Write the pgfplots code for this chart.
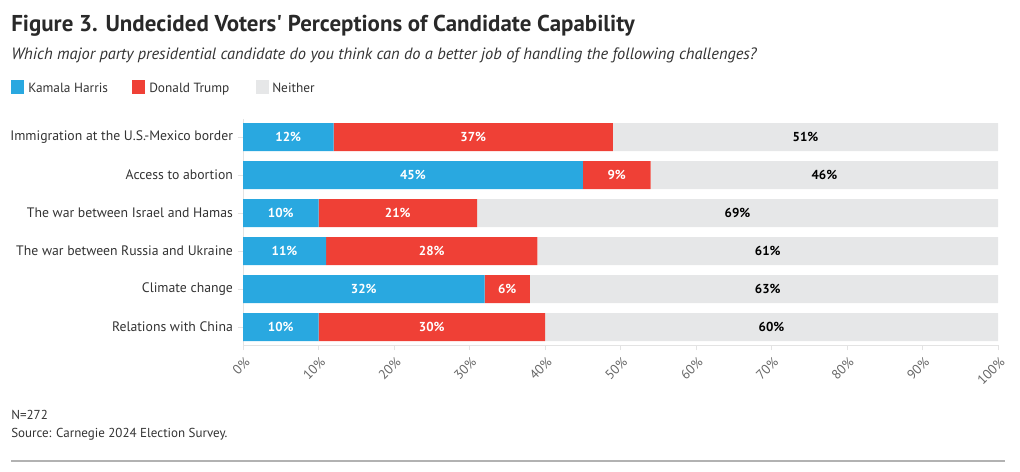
\documentclass[border=0pt]{standalone}
\usepackage{pgfplots}
\pgfplotsset{compat=1.18}
\usepackage{fontspec}
\setmainfont{PT Sans}
\definecolor{harris}{HTML}{29A8E0}
\definecolor{trump}{HTML}{EF4036}
\definecolor{neither}{HTML}{E6E7E8}
\definecolor{txt}{HTML}{333333}
\definecolor{axisgray}{HTML}{E3E3E3}
\definecolor{ticktxt}{HTML}{666666}
\begin{document}
\begin{tikzpicture}
\path[use as bounding box] (0,0) rectangle (765pt,-353.25pt);
\node[anchor=base west, font=\bfseries\fontsize{17.2}{19}\selectfont, text=txt!80!black, inner sep=0] at (8.25pt,-23.5pt) {Figure 3. Undecided Voters\textquotesingle{} Perceptions of Candidate Capability};
\node[anchor=base west, font=\itshape\fontsize{12.3}{14}\selectfont, text=txt, inner sep=0] at (8.25pt,-44.5pt) {Which major party presidential candidate do you think can do a better job of handling the following challenges?};
% legend
\fill[harris] (8.25pt,-60pt) rectangle (18pt,-70.5pt);
\node[anchor=base west, font=\fontsize{10}{12}\selectfont, text=txt, inner sep=0] at (21pt,-69pt) {Kamala Harris};
\fill[trump] (99pt,-60pt) rectangle (108.75pt,-70.5pt);
\node[anchor=base west, font=\fontsize{10}{12}\selectfont, text=txt, inner sep=0] at (111.75pt,-69pt) {Donald Trump};
\fill[neither] (192pt,-60pt) rectangle (201.75pt,-70.5pt);
\node[anchor=base west, font=\fontsize{10}{12}\selectfont, text=txt, inner sep=0] at (204pt,-69pt) {Neither};
% footer
\node[anchor=base west, font=\fontsize{9.75}{12}\selectfont, text=txt, inner sep=0] at (8.25pt,-314.25pt) {N=272};
\node[anchor=base west, font=\fontsize{9.75}{12}\selectfont, text=txt, inner sep=0] at (8.25pt,-328pt) {Source: Carnegie 2024 Election Survey.};
\draw[draw=black!30, line width=1pt] (8.25pt,-345.75pt) -- (753.75pt,-345.75pt);

\begin{axis}[
  at={(182.25pt,-258.75pt)}, anchor=south west,
  scale only axis, width=566.25pt, height=169.3pt,
  xmin=0, xmax=100, ymin=-0.47, ymax=5.47, y dir=reverse,
  /pgf/number format/assume math mode=true,
  xbar stacked, bar width=21pt,
  axis x line*=bottom, axis y line*=left,
  axis line style={draw=axisgray, line width=0.75pt},
  tick align=outside, major tick length=4pt,
  tick style={draw=axisgray, line width=0.75pt},
  xtick={0,10,...,100},
  xticklabel={\pgfmathprintnumber{\tick}\%},
  x tick label style={rotate=45, anchor=east, font=\fontsize{10}{10}\selectfont, text=ticktxt, xshift=0.8pt, yshift=-7.3pt},
  ytick={0,1,2,3,4,5},
  yticklabels={Immigration at the U.S.-Mexico border, Access to abortion, The war between Israel and Hamas, The war between Russia and Ukraine, Climate change, Relations with China},
  y tick label style={font=\fontsize{10.3}{12}\selectfont, text=txt},
]
\addplot[fill=harris, draw=none] coordinates {(12,0) (45,1) (10,2) (11,3) (32,4) (10,5)};
\addplot[fill=trump, draw=none] coordinates {(37,0) (9,1) (21,2) (28,3) (6,4) (30,5)};
\addplot[fill=neither, draw=none] coordinates {(51,0) (46,1) (69,2) (61,3) (63,4) (60,5)};
\end{axis}

\begin{axis}[
  at={(182.25pt,-258.75pt)}, anchor=south west,
  scale only axis, width=566.25pt, height=169.3pt,
  xmin=0, xmax=100, ymin=-0.47, ymax=5.47, y dir=reverse,
  /pgf/number format/assume math mode=true,
  hide axis, clip=false,
  nodes near coords={\pgfmathprintnumber{\pgfplotspointmeta}\%},
  point meta=explicit,
]
\addplot[draw=none, mark=none, nodes near coords style={anchor=center, text=white, font=\bfseries\fontsize{9.75}{12}\selectfont}]
  coordinates {(6,0) [12] (22.5,1) [45] (5,2) [10] (5.5,3) [11] (16,4) [32] (5,5) [10]};
\addplot[draw=none, mark=none, nodes near coords style={anchor=center, text=white, font=\bfseries\fontsize{9.75}{12}\selectfont}]
  coordinates {(30.5,0) [37] (49.5,1) [9] (20.5,2) [21] (25,3) [28] (35,4) [6] (25,5) [30]};
\addplot[draw=none, mark=none, nodes near coords style={anchor=center, text=black, font=\bfseries\fontsize{9.75}{12}\selectfont}]
  coordinates {(74.5,0) [51] (77,1) [46] (65.5,2) [69] (69.5,3) [61] (69.5,4) [63] (70,5) [60]};
\end{axis}
\end{tikzpicture}
\end{document}
